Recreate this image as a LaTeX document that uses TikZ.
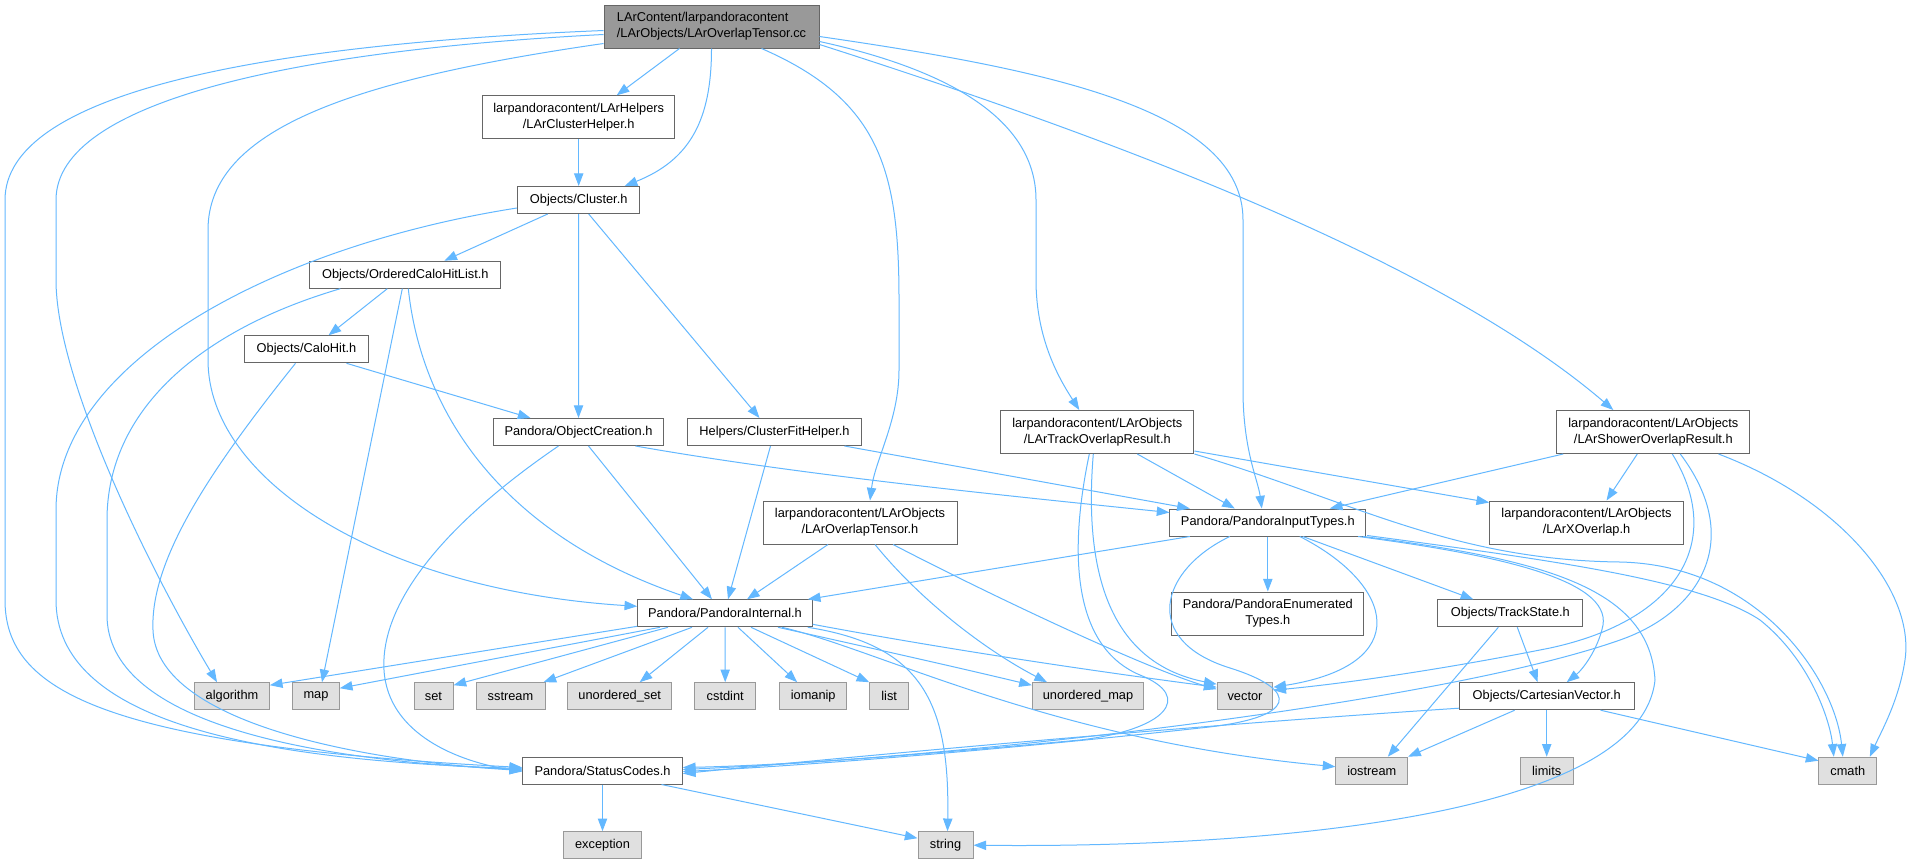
\documentclass[tikz,border=0pt]{standalone}
\usepackage{fontspec}
\newfontfamily\dxf{Liberation Sans}
\usetikzlibrary{arrows.meta,calc}
\definecolor{eblue}{HTML}{63B8FF}
\definecolor{bd}{HTML}{666666}
\definecolor{lbd}{HTML}{999999}
\definecolor{lfill}{HTML}{E0E0E0}
\definecolor{tfill}{HTML}{999999}
\newcommand\dxfont{\dxf\fontsize{9.6pt}{12.2pt}\selectfont}
\tikzset{
  wh/.style 2 args={minimum width=#1*0.75pt,minimum height=#2*0.75pt},
  nd/.style={draw=bd,fill=white,line width=0.75pt,inner sep=0pt,font=\dxfont,align=center},
  lf/.style={draw=lbd,fill=lfill,line width=0.75pt,inner sep=0pt,font=\dxfont},
  topn/.style={draw=bd,fill=tfill,line width=0.75pt,inner sep=0pt,font=\dxfont,align=left},
  e/.style={draw=eblue,line width=0.75pt,-{Triangle[length=9.5pt,width=7pt]}}
}
\begin{document}
\begin{tikzpicture}[x=0.75pt,y=-0.75pt]
\useasboundingbox (0,0) rectangle (1912,864);
\fill[white] (0,0) rectangle (1912,864);
% nodes
\node[topn,wh={215}{43}] (T) at (711.5,26.5) {LArContent/larpandoracontent\\/LArObjects/LArOverlapTensor.cc};
\node[nd,wh={192}{43}] (CH) at (578.7,117.3) {larpandoracontent/LArHelpers\\/LArClusterHelper.h};
\node[nd,wh={122.5}{27}] (CL) at (578.7,200) {Objects/Cluster.h};
\node[nd,wh={190.7}{27}] (OCH) at (405.3,274.7) {Objects/OrderedCaloHitList.h};
\node[nd,wh={123.7}{27}] (CAH) at (306.5,349.3) {Objects/CaloHit.h};
\node[nd,wh={170.4}{27}] (OC) at (578.5,432) {Pandora/ObjectCreation.h};
\node[nd,wh={173.6}{27}] (CFH) at (774.5,432) {Helpers/ClusterFitHelper.h};
\node[nd,wh={193.3}{43}] (TOR) at (1097.3,432) {larpandoracontent/LArObjects\\/LArTrackOverlapResult.h};
\node[nd,wh={193.3}{43}] (SOR) at (1653.3,432) {larpandoracontent/LArObjects\\/LArShowerOverlapResult.h};
\node[nd,wh={194}{43}] (OTH) at (860,522.5) {larpandoracontent/LArObjects\\/LArOverlapTensor.h};
\node[nd,wh={195.7}{27}] (PIT) at (1267.8,522.5) {Pandora/PandoraInputTypes.h};
\node[nd,wh={193.7}{43}] (XO) at (1586.5,522.5) {larpandoracontent/LArObjects\\/LArXOverlap.h};
\node[nd,wh={174.6}{27}] (PI) at (725,613.3) {Pandora/PandoraInternal.h};
\node[nd,wh={191.7}{43}] (PET) at (1267.8,613.5) {Pandora/PandoraEnumerated\\Types.h};
\node[nd,wh={144.7}{27}] (TS) at (1510.3,613.3) {Objects/TrackState.h};
\node[lf,wh={74.7}{27}] (alg) at (232,696.2) {algorithm};
\node[lf,wh={46.6}{27}] (nmap) at (316,696.2) {map};
\node[lf,wh={39}{27}] (nset) at (433.5,696.2) {set};
\node[lf,wh={69}{27}] (sst) at (510.5,696.2) {sstream};
\node[lf,wh={104}{27}] (uset) at (619.7,696.2) {unordered\_set};
\node[lf,wh={61}{27}] (cstd) at (725.2,696.2) {cstdint};
\node[lf,wh={67}{27}] (ioma) at (813.2,696.2) {iomanip};
\node[lf,wh={39}{27}] (nlist) at (889.2,696.2) {list};
\node[lf,wh={111.3}{27}] (umap) at (1088,696.2) {unordered\_map};
\node[lf,wh={55.7}{27}] (vec) at (1245,696.2) {vector};
\node[nd,wh={174.7}{27}] (CV) at (1546.7,696.2) {Objects/CartesianVector.h};
\node[nd,wh={159.6}{27}] (SC) at (602.5,770.5) {Pandora/StatusCodes.h};
\node[lf,wh={71.7}{27}] (ios) at (1371.8,770.7) {iostream};
\node[lf,wh={52.7}{27}] (lim) at (1546.7,770.7) {limits};
\node[lf,wh={57.7}{27}] (cmath) at (1847.8,770.7) {cmath};
\node[lf,wh={77.6}{27}] (exc) at (602.5,845.2) {exception};
\node[lf,wh={55}{27}] (str) at (945.5,845.2) {string};
% edges from T
\draw[e] ($(T.south)+(-32,0)$) -- ($(CH.north)+(38,0)$);
\draw[e] (T.south) .. controls (711.5,120) and (690,160) .. ($(CL.north)+(46,0)$);
\draw[e] ($(T.south)+(50,0)$) .. controls (880,100) and (899,170) .. (899,300) -- (899,370) .. controls (899,420) and (875,460) .. ($(OTH.north)+(10,0)$);
\draw[e] ($(T.east)+(0,15)$) .. controls (950,70) and (1036,120) .. (1036,200) -- (1036,280) .. controls (1036,340) and (1060,380) .. ($(TOR.north)+(-18,0)$);
\draw[e] ($(T.east)+(0,10)$) .. controls (1050,70) and (1243,110) .. (1243,220) -- (1243,390) .. controls (1243,450) and (1258,480) .. ($(PIT.north)+(-6,0)$);
\draw[e] ($(T.east)+(0,18)$) .. controls (1150,150) and (1450,270) .. ($(SOR.north)+(-40,0)$);
\draw[e] ($(T.west)+(0,4)$) .. controls (250,45) and (5,95) .. (5,200) -- (5,600) .. controls (5,690) and (100,745) .. ($(SC.west)+(0,-3)$);
\draw[e] ($(T.west)+(0,8)$) .. controls (300,50) and (56,100) .. (56,200) -- (56,280) .. controls (56,380) and (150,570) .. ($(alg.north)+(-15,0)$);
\draw[e] ($(T.west)+(0,17)$) .. controls (350,80) and (208,130) .. (208,230) -- (208,360) .. controls (208,480) and (380,590) .. ($(PI.west)+(0,-7)$);
\draw[e] (CH.south) -- (CL.north);
% Cluster
\draw[e] ($(CL.south)+(-31,0)$) -- ($(OCH.north)+(39,0)$);
\draw[e] (CL.south) -- (OC.north);
\draw[e] ($(CL.south)+(10,0)$) -- ($(CFH.north)+(-15,0)$);
\draw[e] ($(CL.west)+(0,8)$) .. controls (280,245) and (56,360) .. (56,510) -- (56,600) .. controls (56,720) and (250,760) .. ($(SC.west)+(0,-2)$);
% OrderedCaloHitList
\draw[e] ($(OCH.south)+(-18,0)$) -- ($(CAH.north)+(22,0)$);
\draw[e] ($(OCH.south)+(-3,0)$) -- ($(nmap.north)+(6,0)$);
\draw[e] ($(OCH.south)+(3,0)$) .. controls (420,400) and (490,530) .. ($(PI.north)+(-32,0)$);
\draw[e] ($(OCH.south)+(-65,0)$) .. controls (200,330) and (107,410) .. (107,520) -- (107,615) .. controls (107,720) and (300,760) .. ($(SC.west)+(0,-1)$);
% CaloHit
\draw[e] ($(CAH.south)+(40,0)$) -- ($(OC.north)+(-48,0)$);
\draw[e] ($(CAH.south)+(-11,0)$) .. controls (210,470) and (150,560) .. (153,630) .. controls (156,720) and (350,760) .. (SC.west);
% ObjectCreation
\draw[e] ($(OC.south)+(10,0)$) -- ($(PI.north)+(-13,0)$);
\draw[e] ($(OC.south)+(57,0)$) .. controls (800,475) and (1000,495) .. ($(PIT.west)+(0,-10)$);
\draw[e] ($(OC.south)+(-20,0)$) .. controls (450,520) and (380,600) .. (384,670) .. controls (388,735) and (460,762) .. ($(SC.west)+(0,1)$);
% ClusterFitHelper
\draw[e] ($(CFH.south)+(-4,0)$) -- ($(PI.north)+(3,0)$);
\draw[e] ($(CFH.south)+(70,0)$) -- ($(PIT.north)+(-78,0)$);
% LArOverlapTensor.h
\draw[e] ($(OTH.south)+(-32,0)$) -- ($(PI.north)+(22,0)$);
\draw[e] ($(OTH.south)+(15,0)$) .. controls (920,600) and (985,650) .. ($(umap.north)+(-41,0)$);
\draw[e] ($(OTH.south)+(33,0)$) .. controls (1000,600) and (1150,670) .. ($(vec.west)+(0,-7)$);
% PandoraInternal
\draw[e] ($(PI.south west)+(0,-1)$) -- ($(alg.north east)+(0,3)$);
\draw[e] ($(PI.south)+(-65,0)$) -- ($(nmap.east)+(0,-8)$);
\draw[e] ($(PI.south)+(-57,0)$) -- ($(nset.north east)+(0,3)$);
\draw[e] ($(PI.south)+(-33,0)$) -- ($(sst.north east)+(-2,0)$);
\draw[e] ($(PI.south)+(-17,0)$) -- ($(uset.north)+(20,0)$);
\draw[e] (PI.south) -- (cstd.north);
\draw[e] ($(PI.south)+(13,0)$) -- ($(ioma.north)+(-16,0)$);
\draw[e] ($(PI.south)+(26,0)$) -- (nlist.north west);
\draw[e] ($(PI.south)+(53,0)$) .. controls (880,650) and (960,668) .. ($(umap.north west)+(0,3)$);
\draw[e] ($(PI.south)+(57,0)$) .. controls (880,650) and (1050,740) .. ($(ios.west)+(0,-4)$);
\draw[e] ($(PI.east)+(0,11)$) .. controls (950,650) and (1100,672) .. ($(vec.west)+(0,-9)$);
\draw[e] ($(PI.south east)+(-5,0)$) .. controls (920,645) and (950,700) .. ($(str.north)+(2,0)$);
% StatusCodes
\draw[e] (SC.south) -- (exc.north);
\draw[e] ($(SC.south)+(59,0)$) -- ($(str.west)+(0,-7)$);
% Track overlap result
\draw[e] ($(TOR.south)+(40,0)$) -- ($(PIT.north)+(-33,0)$);
\draw[e] ($(TOR.south east)+(0,-3)$) -- ($(XO.north west)+(0,2)$);
\draw[e] (TOR.south east) .. controls (1350,500) and (1450,560) .. (1620,562) .. controls (1760,565) and (1835,680) .. ($(cmath.north)+(-5,0)$);
\draw[e] ($(TOR.south)+(-4,0)$) .. controls (1082,590) and (1120,665) .. ($(vec.north west)+(0,2)$);
\draw[e] ($(TOR.south)+(-8,0)$) .. controls (1065,570) and (1080,650) .. (1140,675) .. controls (1195,697) and (1165,730) .. (1080,740) .. controls (950,752) and (800,765) .. ($(SC.east)+(0,-3)$);
% Shower overlap result
\draw[e] ($(SOR.south west)+(7,0)$) -- ($(PIT.north)+(62,0)$);
\draw[e] ($(SOR.south)+(-16,0)$) -- ($(XO.north)+(20,0)$);
\draw[e] ($(SOR.south)+(19,0)$) .. controls (1725,540) and (1680,620) .. (1550,648) .. controls (1450,668) and (1350,683) .. ($(vec.east)+(0,-6)$);
\draw[e] ($(SOR.south)+(27,0)$) .. controls (1745,540) and (1700,612) .. (1620,640) .. controls (1450,700) and (1000,755) .. ($(SC.east)+(0,-1)$);
\draw[e] ($(SOR.south east)+(-32,0)$) .. controls (1840,500) and (1915,590) .. (1905,660) .. controls (1899,700) and (1882,730) .. ($(cmath.north)+(22,0)$);
% PandoraInputTypes
\draw[e] ($(PIT.south)+(-78,0)$) -- ($(PI.north east)+(-5,0)$);
\draw[e] (PIT.south) -- (PET.north);
\draw[e] ($(PIT.south)+(35,0)$) -- ($(TS.north)+(-37,0)$);
\draw[e] ($(PIT.south)+(32,0)$) .. controls (1395,585) and (1415,665) .. ($(vec.east)+(0,-9)$);
\draw[e] ($(PIT.south)+(-38,0)$) .. controls (1160,570) and (1140,640) .. (1230,668) .. controls (1300,690) and (1300,718) .. (1200,728) .. controls (1000,750) and (800,766) .. ($(SC.east)+(0,1)$);
\draw[e] ($(PIT.south east)+(-8,0)$) .. controls (1500,555) and (1610,580) .. (1603,625) .. controls (1598,650) and (1582,670) .. ($(CV.north)+(20,0)$);
\draw[e] ($(PIT.south east)+(-3,0)$) .. controls (1550,560) and (1650,590) .. (1655,680) .. controls (1640,820) and (1250,848) .. (str.east);
\draw[e] ($(PIT.south east)+(1,-1)$) .. controls (1550,560) and (1700,580) .. (1760,620) .. controls (1810,660) and (1830,720) .. ($(cmath.north)+(-14,0)$);
% TrackState
\draw[e] ($(TS.south)+(-12,0)$) -- ($(ios.north)+(16,0)$);
\draw[e] ($(TS.south)+(7,0)$) -- ($(CV.north)+(-9,0)$);
% CartesianVector
\draw[e] ($(CV.west)+(0,12)$) .. controls (1200,725) and (900,752) .. ($(SC.east)+(0,3)$);
\draw[e] ($(CV.south)+(-32,0)$) -- (ios.north east);
\draw[e] (CV.south) -- (lim.north);
\draw[e] ($(CV.south east)+(-34,0)$) -- ($(cmath.west)+(0,-10)$);
\end{tikzpicture}
\end{document}
